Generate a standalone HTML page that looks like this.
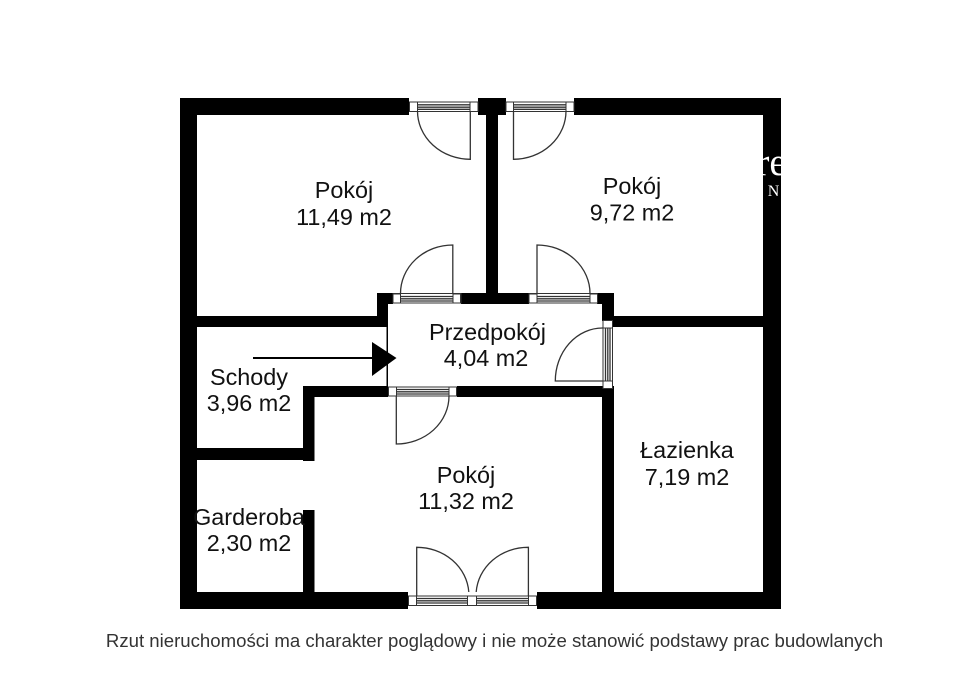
<!DOCTYPE html>
<html>
<head>
<meta charset="utf-8">
<style>
html,body{margin:0;padding:0;background:#fff;width:960px;height:679px;overflow:hidden}
svg{display:block}
text{font-family:"Liberation Sans",sans-serif;font-size:23.4px;fill:#111;text-anchor:middle}
.w{fill:#000}
.f{fill:#fff;stroke:#333;stroke-width:1}
.l{fill:none;stroke:#333;stroke-width:1.3}
</style>
</head>
<body>
<svg width="960" height="679" viewBox="0 0 960 679" xmlns="http://www.w3.org/2000/svg">
<defs><clipPath id="c"><rect x="763" y="115" width="18" height="100"/></clipPath></defs>
<rect width="960" height="679" fill="#fff"/>
<!-- outer walls -->
<rect class="w" x="180" y="98" width="229" height="17"/>
<rect class="w" x="478" y="98" width="28" height="17"/>
<rect class="w" x="574" y="98" width="207" height="17"/>
<rect class="w" x="180" y="98" width="17" height="511"/>
<rect class="w" x="763" y="98" width="18" height="511"/>
<rect class="w" x="180" y="592" width="228" height="17"/>
<rect class="w" x="537" y="592" width="244" height="17"/>
<!-- inner walls -->
<rect class="w" x="486" y="115" width="12" height="178"/>
<rect class="w" x="377" y="293" width="16" height="11"/>
<rect class="w" x="461" y="293" width="68" height="11"/>
<rect class="w" x="597" y="293" width="17" height="11"/>
<rect class="w" x="377" y="293" width="11" height="34"/>
<rect class="w" x="602" y="293" width="12" height="28"/>
<rect class="w" x="197" y="316" width="191" height="11"/>
<rect class="w" x="613" y="316" width="150" height="11"/>
<rect class="w" x="386.5" y="327" width="1.5" height="59"/>
<rect class="w" x="303" y="386" width="85" height="11"/>
<rect class="w" x="457" y="386" width="157" height="11"/>
<rect class="w" x="602" y="386" width="12" height="206"/>
<rect class="w" x="303" y="386" width="11.5" height="75"/>
<rect class="w" x="197" y="448" width="117" height="12"/>
<rect class="w" x="303" y="510" width="11.5" height="82"/>
<!-- watermark -->
<g clip-path="url(#c)">
<text x="771.5" y="175" style="font-family:'Liberation Serif',serif;font-size:39px;fill:#fff">re</text>
<text x="773.5" y="196" style="font-family:'Liberation Serif',serif;font-size:16px;fill:#fff">N</text>
</g>
<!-- top left window + door -->
<g>
<rect x="409.5" y="102" width="68.5" height="9.5" fill="#fff" stroke="#333"/>
<rect class="f" x="409.5" y="102" width="8" height="9.5"/>
<rect class="f" x="470" y="102" width="8" height="9.5"/>
<path class="l" d="M417.5 104.8H470M417.5 107.2H470M417.5 109.3H470"/>
<path class="l" d="M470.3 111V159.3A52.8 48.3 0 0 1 417.5 111"/>
</g>
<!-- top right window + door -->
<g>
<rect x="506" y="102" width="68" height="9.5" fill="#fff" stroke="#333"/>
<rect class="f" x="506" y="102" width="7.5" height="9.5"/>
<rect class="f" x="566" y="102" width="8" height="9.5"/>
<path class="l" d="M513.5 104.8H566M513.5 107.2H566M513.5 109.3H566"/>
<path class="l" d="M513.5 111V159.3A52.5 48.3 0 0 0 566 111"/>
</g>
<!-- hall door left top -->
<g>
<rect x="393" y="293.5" width="68" height="9.5" fill="#fff" stroke="#333"/>
<rect class="f" x="393" y="294" width="7.5" height="9"/>
<rect class="f" x="453" y="294" width="7.5" height="9"/>
<path class="l" d="M400.5 296.5H453M400.5 298.8H453M400.5 301H453"/>
<path class="l" d="M452.8 293.5V245A52.3 48.5 0 0 0 400.5 293.5"/>
</g>
<!-- hall door right top -->
<g>
<rect x="529" y="293.5" width="68" height="9.5" fill="#fff" stroke="#333"/>
<rect class="f" x="529" y="294" width="8" height="9"/>
<rect class="f" x="590" y="294" width="7.5" height="9"/>
<path class="l" d="M537 296.5H590M537 298.8H590M537 301H590"/>
<path class="l" d="M537 293.5V245A53 48.5 0 0 1 590 293.5"/>
</g>
<!-- hall door right side -->
<g>
<rect x="603" y="320.5" width="9.5" height="68" fill="#fff" stroke="#333"/>
<rect class="f" x="603" y="320.5" width="9.5" height="7.5"/>
<rect class="f" x="603" y="381" width="9.5" height="7.5"/>
<path class="l" d="M605.5 328V381M607.8 328V381M610 328V381"/>
<path class="l" d="M602.5 381H555.3A47.2 53 0 0 1 602.5 328"/>
</g>
<!-- hall door bottom -->
<g>
<rect x="388.5" y="387" width="68" height="9" fill="#fff" stroke="#333"/>
<rect class="f" x="388.5" y="387" width="8" height="9"/>
<rect class="f" x="449" y="387" width="7.5" height="9"/>
<path class="l" d="M396.5 389.5H449M396.5 391.8H449M396.5 394H449"/>
<path class="l" d="M396.3 396V444A52.7 48 0 0 0 449 396"/>
</g>
<!-- double door bottom -->
<g>
<rect x="408.5" y="596" width="128" height="9.5" fill="#fff" stroke="#333"/>
<rect class="f" x="408.5" y="596" width="8" height="9.5"/>
<rect class="f" x="467.5" y="596" width="9" height="9.5"/>
<rect class="f" x="528.5" y="596" width="8" height="9.5"/>
<path class="l" d="M416.5 598.5H467.5M416.5 600.8H467.5M416.5 603H467.5M476.5 598.5H528.5M476.5 600.8H528.5M476.5 603H528.5"/>
<path class="l" d="M416.7 596V547.3A52 48 0 0 1 468.8 592"/>
<path class="l" d="M528.4 596V547.3A52 48 0 0 0 476.2 592"/>
</g>
<!-- arrow -->
<rect x="253" y="357" width="120" height="2" fill="#000"/>
<polygon points="372,342 396.5,358 372,376" fill="#000"/>
<!-- labels -->
<text x="344" y="198">Pokój</text>
<text x="344" y="225">11,49 m2</text>
<text x="632" y="194">Pokój</text>
<text x="632" y="220.5">9,72 m2</text>
<text x="487.5" y="340">Przedpokój</text>
<text x="486" y="366">4,04 m2</text>
<text x="249" y="385">Schody</text>
<text x="249" y="411">3,96 m2</text>
<text x="687" y="458">Łazienka</text>
<text x="687" y="485">7,19 m2</text>
<text x="466" y="483">Pokój</text>
<text x="466" y="509">11,32 m2</text>
<text x="249" y="525">Garderoba</text>
<text x="249" y="551">2,30 m2</text>
<text x="494.5" y="647" style="font-size:18.6px;fill:#333">Rzut nieruchomości ma charakter poglądowy i nie może stanowić podstawy prac budowlanych</text>
</svg>
</body>
</html>
